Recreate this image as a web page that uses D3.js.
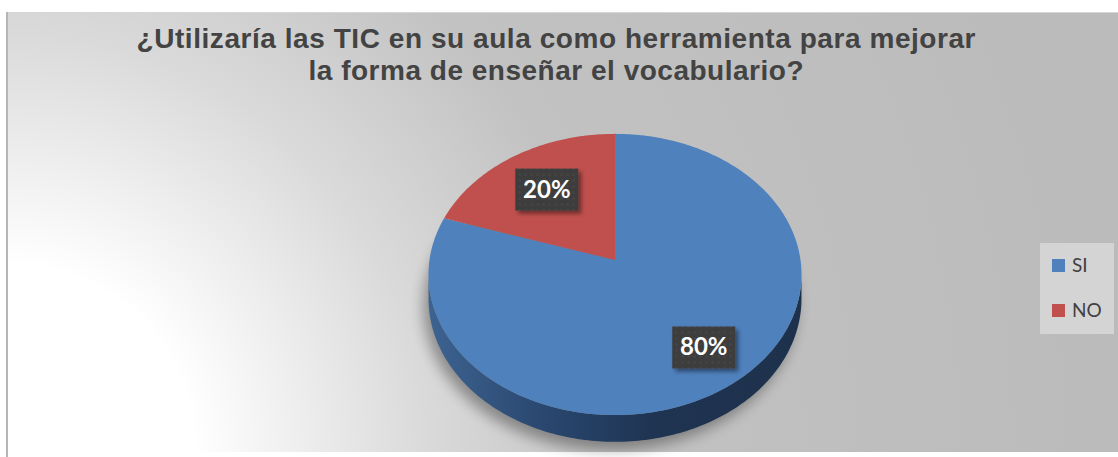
<!DOCTYPE html>
<html>
<head>
<meta charset="utf-8">
<script src="https://cdn.jsdelivr.net/npm/d3@7"></script>
<style>
  html, body { margin: 0; padding: 0; background: #fff; }
  svg { display: block; }
</style>
</head>
<body>
<div id="chart"></div>
<script>
// datos
const categories = ["SI", "NO"];
const values = [80, 20];
const labels = ["80%", "20%"];
const titleLines = ["¿Utilizaría las TIC en su aula como herramienta para mejorar",
                    "la forma de enseñar el vocabulario?"];

const width = 1118, height = 457;
const colors = d3.scaleOrdinal().domain(categories).range(["#4f81bd", "#c0504d"]);

const svg = d3.select("#chart").append("svg")
    .attr("width", width)
    .attr("height", height);

const defs = svg.append("defs");

// fondo degradado
let bg = defs.append("radialGradient")
    .attr("id", "bg")
    .attr("gradientUnits", "userSpaceOnUse")
    .attr("cx", 6).attr("cy", 452).attr("r", 1100);
bg.append("stop").attr("offset", 0).attr("stop-color", "#ffffff");
bg.append("stop").attr("offset", 0.17).attr("stop-color", "#ffffff");
bg.append("stop").attr("offset", 0.38).attr("stop-color", "#dadada");
bg.append("stop").attr("offset", 0.56).attr("stop-color", "#c2c2c2");
bg.append("stop").attr("offset", 1).attr("stop-color", "#bbbbbb");

let wall = defs.append("linearGradient")
    .attr("id", "wall")
    .attr("gradientUnits", "userSpaceOnUse")
    .attr("x1", 429).attr("x2", 802).attr("y1", 0).attr("y2", 0);
wall.append("stop").attr("offset", 0).attr("stop-color", "#3d6391");
wall.append("stop").attr("offset", 0.3).attr("stop-color", "#2a4870");
wall.append("stop").attr("offset", 0.6).attr("stop-color", "#1f3452");
wall.append("stop").attr("offset", 1).attr("stop-color", "#1e314c");

defs.append("filter").attr("id", "blur")
    .attr("x", "-20%").attr("y", "-20%").attr("width", "140%").attr("height", "140%")
  .append("feGaussianBlur").attr("stdDeviation", 7);

let ds = defs.append("filter").attr("id", "dshadow")
    .attr("x", "-20%").attr("y", "-20%").attr("width", "150%").attr("height", "150%");
ds.append("feDropShadow").attr("dx", 3).attr("dy", 3).attr("stdDeviation", 2)
    .attr("flood-color", "#000").attr("flood-opacity", 0.45);

let pat = defs.append("pattern").attr("id", "dots")
    .attr("patternUnits", "userSpaceOnUse").attr("width", 6).attr("height", 6);
pat.append("rect").attr("width", 6).attr("height", 6).attr("fill", "#3e3e3e");
pat.append("circle").attr("cx", 3).attr("cy", 3).attr("r", 1).attr("fill", "#4a4a4a");

// area del grafico
svg.append("rect")
    .attr("x", 6).attr("y", 12)
    .attr("width", width - 6).attr("height", 440)
    .attr("fill", "url(#bg)");
svg.append("line").attr("x1", 6).attr("x2", width).attr("y1", 12.5).attr("y2", 12.5)
    .attr("stroke", "#d6d6d6").attr("stroke-width", 1);
svg.append("line").attr("x1", 7).attr("x2", 7).attr("y1", 12).attr("y2", 457)
    .attr("stroke", "#b5b5b5").attr("stroke-width", 2);

// titulo
const titleWidths = [839, 495];
const title = svg.append("g")
    .attr("font-family", "'Liberation Sans', Arial, sans-serif")
    .attr("font-weight", "bold")
    .attr("font-size", 28)
    .attr("fill", "#434343")
    .attr("text-anchor", "middle");
title.selectAll("text")
    .data(titleLines)
    .enter()
    .append("text")
    .attr("x", 556)
    .attr("y", function (d, i) { return 48 + i * 32; })
    .attr("textLength", function (d, i) { return titleWidths[i]; })
    .text(function (d) { return d; });

// pastel 3D con perspectiva
const cx = 615, cy = 260, k = 185.5, tilt = 0.75, persp = 0.103, depth = 24;

function proj(a, r, down) {
    let X = r * Math.sin(a), Z = -r * Math.cos(a);
    let w = 1 - persp * Z;
    return [cx + k * X / w, cy + k * tilt * Z / w + (down ? depth / w : 0)];
}

const pie = d3.pie().sort(null).value(function (d) { return d; });
const arcs = pie(values);
const line = d3.line();

function arcPoints(a0, a1, down) {
    let n = Math.max(2, Math.ceil((a1 - a0) / (Math.PI / 180)));
    return d3.range(n + 1).map(function (i) { return proj(a0 + (a1 - a0) * i / n, 1, down); });
}

// sombra
svg.append("path")
    .attr("d", line(arcPoints(0, 2 * Math.PI, true)) + "Z")
    .attr("transform", "translate(-5,8)")
    .attr("fill", "#000")
    .attr("opacity", 0.35)
    .attr("filter", "url(#blur)");

// pared frontal
const aRight = Math.acos(-persp), aLeft = 2 * Math.PI - Math.acos(-persp);
svg.selectAll(".wall")
    .data(arcs.filter(function (d) { return d.endAngle > aRight && d.startAngle < aLeft; }))
    .enter()
    .append("path")
    .attr("class", "wall")
    .attr("fill", "url(#wall)")
    .attr("d", function (d) {
        let a0 = Math.max(d.startAngle, aRight), a1 = Math.min(d.endAngle, aLeft);
        let top = arcPoints(a0, a1, false);
        let bottom = arcPoints(a0, a1, true).reverse();
        return line(top.concat(bottom)) + "Z";
    });

// cara superior
svg.selectAll(".slice")
    .data(arcs)
    .enter()
    .append("path")
    .attr("class", "slice")
    .attr("fill", function (d, i) { return colors(categories[i]); })
    .attr("d", function (d) {
        return line([[cx, cy]].concat(arcPoints(d.startAngle, d.endAngle, false))) + "Z";
    });

// etiquetas
const lbl = svg.selectAll(".lbl")
    .data(arcs)
    .enter()
    .append("g")
    .attr("class", "lbl")
    .attr("transform", function (d) {
        let mid = (d.startAngle + d.endAngle) / 2;
        let p = proj(mid, d.value > 50 ? 0.73 : 0.66, false);
        return "translate(" + (p[0] + (d.value > 50 ? 4 : 0)) + "," + p[1] + ")";
    });
lbl.append("rect")
    .attr("x", -31.5).attr("y", -21)
    .attr("width", 63).attr("height", 42)
    .attr("fill", "url(#dots)")
    .attr("filter", "url(#dshadow)");
lbl.append("text")
    .attr("text-anchor", "middle")
    .attr("y", 8)
    .attr("font-family", "Lato, 'Open Sans', sans-serif")
    .attr("font-weight", "bold")
    .attr("font-size", 24)
    .attr("fill", "#fff")
    .text(function (d, i) { return labels[i]; });

// leyenda
const legend = svg.append("g");
legend.append("rect")
    .attr("x", 1040).attr("y", 243)
    .attr("width", 74).attr("height", 91)
    .attr("fill", "#d4d4d4");
const items = legend.selectAll(".item")
    .data(categories)
    .enter()
    .append("g")
    .attr("class", "item")
    .attr("transform", function (d, i) { return "translate(1052," + (259 + i * 45) + ")"; });
items.append("rect")
    .attr("width", 13).attr("height", 13)
    .attr("fill", function (d) { return colors(d); });
items.append("text")
    .attr("x", 20).attr("y", 13)
    .attr("font-family", "Lato, 'Open Sans', sans-serif")
    .attr("font-size", 19)
    .attr("fill", "#404040")
    .text(function (d) { return d; });
</script>
</body>
</html>
